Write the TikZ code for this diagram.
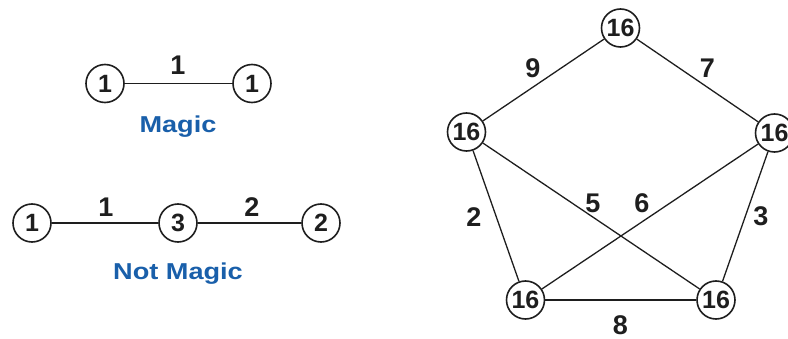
\documentclass[tikz,border=0pt]{standalone}
\usepackage{fontspec}
\usepackage{graphicx}
\setmainfont{Liberation Sans}
\definecolor{ink}{RGB}{30,30,30}
\definecolor{magicblue}{RGB}{25,95,170}
\tikzset{
  vert/.style={circle, draw=ink, line width=1.6pt, fill=white, minimum size=38pt,
    inner sep=0pt, text=ink, font=\fontsize{25}{25}\selectfont\bfseries},
  edge/.style={draw=ink, line width=1.3pt},
  wlabel/.style={text=ink, inner sep=0pt, font=\fontsize{27}{27}\selectfont\bfseries},
  caption/.style={text=magicblue, inner sep=0pt, font=\fontsize{23}{23}\selectfont\bfseries}
}
\begin{document}
\begin{tikzpicture}[x=1pt, y=-1pt]
  \useasboundingbox (0,0) rectangle (788,339);
  \clip (0,0) rectangle (788,339);

  % two-vertex graph
  \node[vert] (a1) at (105,83.5) {1};
  \node[vert] (a2) at (252,83.5) {1};
  \draw[edge] (a1) -- (a2);
  \node[wlabel] (la) at (178,65) {1};
  \node[caption] (ca) at (178,127) {\scalebox{1.18}[1]{Magic}};

  % three-vertex path
  \node[vert] (b1) at (32,223) {1};
  \node[vert] (b2) at (178,223) {3};
  \node[vert] (b3) at (321,223) {2};
  \draw[edge] (b1) -- (b2);
  \draw[edge] (b2) -- (b3);
  \node[wlabel] (lb1) at (106,207) {1};
  \node[wlabel] (lb2) at (252,207) {2};
  \node[caption] (cb) at (178,274) {\scalebox{1.18}[1]{Not Magic}};

  % pentagon graph with all edges weighted
  \node[vert] (t)  at (620.5,28)  {16};
  \node[vert] (l)  at (466.5,132) {16};
  \node[vert] (r)  at (774.5,133) {16};
  \node[vert] (bl) at (525.5,300) {16};
  \node[vert] (br) at (716,300)   {16};
  \draw[edge] (t) -- (l);
  \draw[edge] (t) -- (r);
  \draw[edge] (l) -- (bl);
  \draw[edge] (l) -- (br);
  \draw[edge] (r) -- (bl);
  \draw[edge] (r) -- (br);
  \draw[edge] (bl) -- (br);
  \node[wlabel] (l9) at (533,68)    {9};
  \node[wlabel] (l7) at (707.5,68)  {7};
  \node[wlabel] (l2) at (474,217)   {2};
  \node[wlabel] (l5) at (593,203)   {5};
  \node[wlabel] (l6) at (642,203)   {6};
  \node[wlabel] (l3) at (761,216.5) {3};
  \node[wlabel] (l8) at (620.5,325) {8};
\end{tikzpicture}
\end{document}
